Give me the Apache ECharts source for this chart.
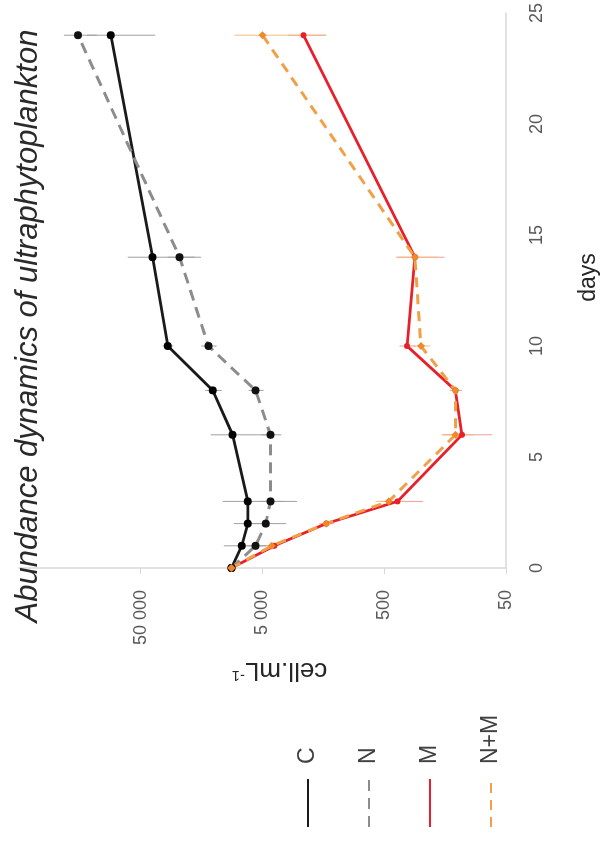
<!DOCTYPE html>
<html>
<head>
<meta charset="utf-8">
<script src="https://cdn.jsdelivr.net/npm/echarts@6/dist/echarts.min.js"></script>
<style>
  html, body { margin: 0; padding: 0; background: #fff; width: 605px; height: 843px; overflow: hidden; }
  /* the picture is the chart turned a quarter turn to the left */
  #chart { position: absolute; left: 0; top: 0; width: 843px; height: 605px;
           transform-origin: 0 0; transform: translate(0, 843px) rotate(-90deg); }
</style>
</head>
<body>
<div id="chart"></div>
<script>
// sampling days
const days = [0, 1, 2, 3, 6, 8, 10, 14, 24];
// cell.mL-1 per treatment
const cVals = [9000, 7400, 6600, 6600, 8800, 12800, 30000, 40000, 88000];
const nVals = [9000, 5700, 4700, 4300, 4300, 5700, 13900, 24000, 164000];
const mVals = [9000, 4000, 1500, 390, 115, 130, 325, 280, 2300];
const nmVals = [9000, 4200, 1500, 460, 130, 130, 250, 280, 5000];
// +/- error
const cErr = [0, 3000, 2000, 4000, 4500, 2000, 3000, 24000, 50000];
const nErr = [0, 1000, 1500, 1000, 800, 800, 2000, 6000, 50000];
const mErr = [0, 300, 200, 150, 50, 15, 50, 120, 800];
const nmErr = [0, 300, 200, 130, 40, 15, 40, 100, 3500];
// axis labels
const cellTicks = [50, 500, 5000, 50000];
const names = ['C', 'N', 'M', 'N+M'];

const font = 'Liberation Sans, Arial, sans-serif';

function pairs(vals) {
  return days.map((d, i) => [d, vals[i]]);
}

function errorBars(vals, errs, color) {
  return {
    type: 'custom',
    silent: true,
    z: 1,
    encode: { x: 0, y: 1 },
    renderItem: function (params, api) {
      const x = api.value(0), y = api.value(1), e = api.value(2);
      if (!e) return { type: 'group', children: [] };
      const lo = api.coord([x, Math.max(y - e, 1)]);
      const hi = api.coord([x, y + e]);
      return {
        type: 'line',
        shape: { x1: lo[0], y1: lo[1], x2: hi[0], y2: hi[1] },
        style: { stroke: color, lineWidth: 1 }
      };
    },
    data: days.map((d, i) => [d, vals[i], errs[i]])
  };
}

function lineSeries(name, vals, lineColor, dotColor, type, width, symbol, size) {
  return {
    name: name,
    type: 'line',
    z: 3,
    data: pairs(vals),
    symbol: symbol,
    symbolSize: size,
    lineStyle: { color: lineColor, width: width, type: type },
    itemStyle: { color: dotColor },
    emphasis: { disabled: true }
  };
}

const chart = echarts.init(document.getElementById('chart'), null, { width: 843, height: 605 });

chart.setOption({
  animation: false,
  backgroundColor: '#fff',
  title: {
    text: 'Abundance dynamics of ultraphytoplankton',
    left: 512,
    textAlign: 'center',
    top: 8,
    textStyle: { fontFamily: font, fontStyle: 'italic', fontWeight: 'normal', fontSize: 31, color: '#2a2a2a' }
  },
  legend: {
    data: names,
    orient: 'vertical',
    left: 15,
    top: 296,
    padding: 0,
    itemWidth: 48,
    itemHeight: 14,
    itemGap: 37,
    itemStyle: { opacity: 0 },
    textStyle: { fontFamily: font, fontSize: 23, color: '#404040', lineHeight: 24, padding: [0, 0, 0, 10] }
  },
  grid: { left: 275, right: 12, top: 19, bottom: 98 },
  xAxis: {
    type: 'value',
    min: 0,
    max: 25,
    interval: 5,
    name: 'days',
    nameLocation: 'middle',
    nameGap: 71,
    nameTextStyle: { fontFamily: font, fontSize: 23, color: '#262626', padding: [0, 0, 0, 26] },
    axisLine: { lineStyle: { color: '#d9d9d9', width: 1.5 } },
    axisTick: { show: false },
    splitLine: { show: false },
    axisLabel: { margin: 22, fontFamily: font, fontSize: 18, color: '#595959' }
  },
  yAxis: {
    type: 'log',
    logBase: 10,
    min: 50,
    max: 500000,
    name: 'cell.mL{sup|-1}',
    nameLocation: 'middle',
    nameGap: 89,
    nameTextStyle: {
      fontFamily: font, fontSize: 26, color: '#262626', padding: [0, 34, 0, 0],
      rich: { sup: { fontFamily: font, fontSize: 15, color: '#262626', verticalAlign: 'top', padding: [0, 0, 10, 0] } }
    },
    axisLine: { show: true, lineStyle: { color: '#d9d9d9', width: 1.5 } },
    axisTick: { show: true, length: 6, customValues: cellTicks, lineStyle: { color: '#d9d9d9' } },
    splitLine: { show: false },
    minorTick: { show: false },
    axisLabel: {
      margin: 22,
      customValues: cellTicks,
      fontFamily: font, fontSize: 18, color: '#595959',
      formatter: function (v) { return String(Math.round(v)).replace(/\B(?=(\d{3})+(?!\d))/g, ' '); }
    }
  },
  series: [
    errorBars(cVals, cErr, '#a0a0a0'),
    errorBars(nVals, nErr, '#a0a0a0'),
    errorBars(mVals, mErr, '#f29a9a'),
    errorBars(nmVals, nmErr, '#f5bb80'),
    lineSeries('C', cVals, '#1a1a1a', '#000', 'solid', 2.8, 'circle', 8),
    lineSeries('N', nVals, '#8c8c8c', '#111', [11, 7], 3, 'circle', 8),
    lineSeries('M', mVals, '#e8202a', '#e8202a', 'solid', 2.8, 'circle', 6),
    lineSeries('N+M', nmVals, '#f0a048', '#ee8a2c', [10, 7], 3, 'diamond', 8)
  ]
});
</script>
</body>
</html>
